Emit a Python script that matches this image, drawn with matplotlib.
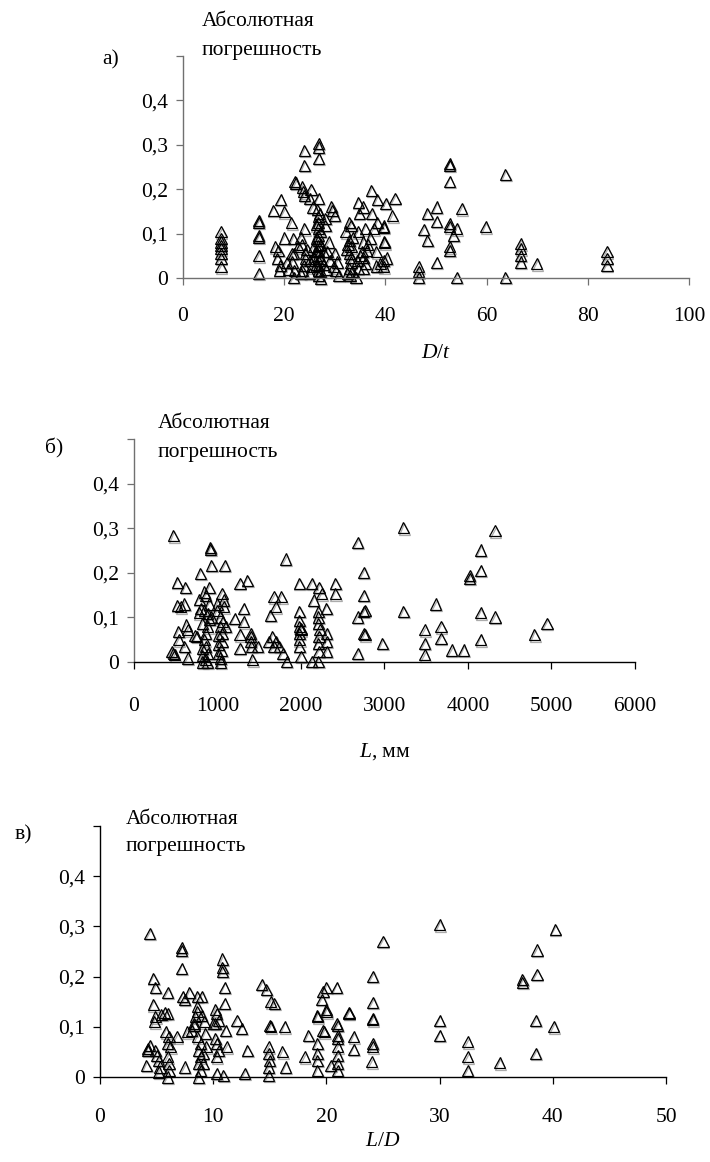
import matplotlib
matplotlib.use('Agg')  # no display
import matplotlib.pyplot as plt
import matplotlib.patheffects as pe
from matplotlib.ticker import FixedLocator, FuncFormatter

plt.rcParams['font.family'] = ['Liberation Serif', 'DejaVu Serif']
plt.rcParams['mathtext.fontset'] = 'custom'
plt.rcParams['mathtext.it'] = 'Liberation Serif:italic'
plt.rcParams['mathtext.rm'] = 'Liberation Serif'

# --- panel a: error vs D/t ---
dt_x = [7.5, 7.5, 7.5, 7.5, 7.5, 7.5, 7.5, 7.5,
        15, 15, 15, 15, 15, 15,
        17.8, 19.3, 20, 21.4, 20, 21.8, 18.2, 18.8, 18.6, 19.2, 19.0, 20.5, 20.8, 21.5,
        22.1, 22.3, 24.0, 24.0, 23.6, 23.8, 24.0, 25.3, 25.0, 25.7, 24.0, 23.3, 24.2, 24.2,
        23.9, 23.6, 23.3, 21.9, 22.0, 21.6, 21.9, 22.8, 23.5, 24.5, 25.0, 25.5, 25.0,
        26.8, 26.8, 26.8, 26.8, 26.7, 26.7, 26.7, 26.7, 26.7, 26.7, 26.7, 26.7, 26.7, 26.7,
        26.7, 26.7, 26.3, 26.3, 26.3, 26.3, 27.2, 27.2, 27.2, 27.2, 27.2, 25.8, 25.8, 27.7,
        27.7, 26.5, 27.0,
        28.1, 29.3, 30.0, 29.5, 28.1, 28.8, 30.0, 30.5, 30.2, 30.8, 28.5, 29.0, 28.3, 29.8,
        32.9, 33.2, 32.2, 32.9, 33.5, 33.2, 32.9, 33.2, 33.2, 32.9, 33.0, 32.5, 33.4, 32.4, 32.6,
        34.6, 35.6, 34.8, 34.6, 36.0, 35.6, 34.6, 34.2, 35.0, 35.4, 34.4,
        37.2, 38.4, 37.3, 38.4, 37.7, 36.3, 35.6, 36.0, 35.6, 38.2, 38.2, 37.0, 36.5,
        40.1, 41.9, 41.4, 39.7, 39.7, 39.8, 39.8, 39.7, 39.7, 39.0, 40.3,
        46.6, 46.6, 46.6, 47.6, 48.3, 48.3, 50.1, 50.1, 50.1,
        52.7, 52.7, 52.7, 52.7, 52.7, 53.4, 52.7, 52.7, 54.1, 54.1, 55.1,
        59.8, 63.7, 63.7,
        66.7, 66.7, 66.7, 66.7, 69.9,
        83.8, 83.8, 83.8]
dt_err = [0.104, 0.089, 0.081, 0.074, 0.066, 0.055, 0.044, 0.025,
          0.13, 0.125, 0.096, 0.092, 0.05, 0.01,
          0.153, 0.177, 0.149, 0.124, 0.09, 0.089, 0.07, 0.062, 0.044, 0.029, 0.017, 0.035, 0.02, 0.055,
          0.218, 0.214, 0.288, 0.254, 0.205, 0.194, 0.186, 0.2, 0.18, 0.16, 0.111, 0.092, 0.055, 0.044,
          0.029, 0.017, 0.01, 0.002, 0.017, 0.036, 0.055, 0.07, 0.075, 0.065, 0.04, 0.025, 0.01,
          0.303, 0.295, 0.27, 0.179, 0.138, 0.126, 0.111, 0.096, 0.085, 0.074, 0.062, 0.051, 0.04, 0.029,
          0.017, 0.006, 0.12, 0.09, 0.06, 0.03, 0.105, 0.075, 0.045, 0.015, 0.0, 0.07, 0.045, 0.06,
          0.03, 0.155, 0.145,
          0.134, 0.162, 0.141, 0.152, 0.119, 0.081, 0.055, 0.036, 0.017, 0.006, 0.06, 0.04, 0.02, 0.025,
          0.126, 0.119, 0.104, 0.085, 0.092, 0.07, 0.055, 0.047, 0.036, 0.021, 0.006, 0.01, 0.015, 0.065, 0.075,
          0.171, 0.16, 0.145, 0.104, 0.111, 0.081, 0.021, 0.002, 0.05, 0.06, 0.04,
          0.198, 0.177, 0.145, 0.126, 0.111, 0.062, 0.047, 0.033, 0.021, 0.059, 0.027, 0.09, 0.075,
          0.168, 0.18, 0.14, 0.117, 0.114, 0.083, 0.079, 0.04, 0.025, 0.032, 0.045,
          0.025, 0.014, 0.002, 0.11, 0.085, 0.145, 0.16, 0.128, 0.035,
          0.258, 0.254, 0.217, 0.123, 0.115, 0.096, 0.07, 0.062, 0.111, 0.002, 0.156,
          0.115, 0.233, 0.002,
          0.077, 0.066, 0.051, 0.036, 0.032,
          0.059, 0.044, 0.029]

# --- panel b: error vs L, mm ---
len_x = [473, 516, 615, 516, 559, 602, 450, 490, 470, 530, 537, 624, 645, 602, 645, 730, 750,
         796, 840, 860, 903, 840, 882, 925, 818, 882, 860, 840, 860, 882, 860,
         780, 780, 800, 900, 900, 820, 820, 820, 880,
         916, 916, 925, 1054, 1075, 1075, 1032, 1032, 1054, 1054, 1045, 1032, 1088,
         1000, 1000, 1010, 1010, 1010, 1040, 1060, 1100,
         1204, 1269, 1355, 1312, 1312, 1269, 1269, 1398, 1398, 1398, 1406, 1419, 1484,
         1634, 1677, 1699, 1763, 1656, 1699, 1677, 1613, 1742, 1785, 1819, 1828,
         1978, 1978, 1978, 1978, 1978, 1978, 1978, 2000, 2000, 2000,
         2129, 2150, 2215, 2249, 2206, 2206, 2206, 2228, 2215, 2206, 2215, 2206,
         2301, 2310, 2310, 2310, 2129, 2409, 2409,
         2680, 2680, 2680, 2753, 2753, 2753, 2766, 2753, 2766, 2976,
         3226, 3226, 3484, 3484, 3484, 3613, 3677, 3677, 3806, 3948,
         4022, 4022, 4150, 4150, 4150, 4150, 4323, 4323, 4796, 4946]
len_err = [0.283, 0.179, 0.168, 0.127, 0.124, 0.13, 0.024, 0.016, 0.02, 0.068, 0.05, 0.083, 0.072, 0.035, 0.009, 0.06, 0.057,
           0.198, 0.157, 0.15, 0.168, 0.116, 0.109, 0.101, 0.087, 0.079, 0.064, 0.05, 0.035, 0.02, 0.005,
           0.14, 0.11, 0.12, 0.13, 0.095, 0.03, 0.015, 0.0, 0.0,
           0.257, 0.253, 0.216, 0.153, 0.124, 0.139, 0.101, 0.079, 0.064, 0.046, 0.027, 0.009, 0.216,
           0.13, 0.115, 0.06, 0.04, 0.02, 0.0, 0.09, 0.08,
           0.098, 0.176, 0.183, 0.12, 0.09, 0.061, 0.031, 0.064, 0.057, 0.046, 0.035, 0.005, 0.035,
           0.105, 0.146, 0.124, 0.146, 0.057, 0.046, 0.035, 0.046, 0.035, 0.02, 0.231, 0.001,
           0.176, 0.113, 0.094, 0.079, 0.064, 0.05, 0.035, 0.013, 0.075, 0.072,
           0.176, 0.139, 0.168, 0.153, 0.113, 0.101, 0.087, 0.072, 0.057, 0.042, 0.024, 0.001,
           0.12, 0.064, 0.046, 0.024, 0.001, 0.176, 0.153,
           0.268, 0.101, 0.02, 0.201, 0.15, 0.113, 0.116, 0.064, 0.061, 0.042,
           0.301, 0.113, 0.072, 0.042, 0.016, 0.13, 0.079, 0.053, 0.027, 0.027,
           0.194, 0.187, 0.251, 0.205, 0.11, 0.05, 0.294, 0.101, 0.061, 0.087]

# --- panel c: error vs L/D ---
ld_x = [4.4, 4.7, 4.9, 6.0, 4.7, 4.8, 4.9, 5.7, 6.0, 5.4,
        7.2, 7.2, 7.2, 7.3, 7.5, 7.9, 8.6, 9.0, 8.6, 8.6, 8.4, 8.3,
        10.2, 10.3, 11.0, 10.8, 10.8, 10.8, 11.0, 10.2, 10.5, 12.1, 12.5,
        14.3, 14.7, 15.1, 15.4, 15.1, 16.3,
        19.2, 19.7, 19.7, 20.0, 20.9, 19.6, 20.0, 20.9, 22.0,
        24.1, 24.1, 24.1, 24.1, 25.0, 30.0, 37.3, 37.3, 38.6, 38.6, 40.2,
        4.1, 4.2, 4.2, 4.4, 4.9, 5.0, 5.2, 5.3, 5.2,
        5.8, 6.1, 6.0, 6.2, 6.0, 6.1, 6.1, 6.0, 6.8, 7.5, 7.7,
        8.3, 8.1, 8.6, 8.9, 8.7, 8.9, 8.7, 8.9, 8.7, 9.0, 9.2, 9.3, 9.4, 9.1, 9.1,
        10.0, 10.2, 10.3, 10.5, 10.3, 10.3, 10.9, 11.2, 11.1, 13.0, 12.8,
        15.0, 14.9, 14.9, 15.0, 14.9, 14.9, 16.1, 16.4,
        18.4, 18.1, 19.2, 19.2, 19.2, 19.2, 19.2, 19.8, 20.0, 20.4,
        21.0, 21.0, 21.0, 21.0, 21.0, 21.0, 21.0, 22.0, 22.4, 22.4,
        24.1, 24.1, 24.0, 30.0, 30.0, 32.5, 32.5, 32.5, 35.3, 38.5, 38.5, 40.1]
ld_err = [0.286, 0.196, 0.178, 0.168, 0.144, 0.11, 0.12, 0.128, 0.127, 0.125,
          0.258, 0.252, 0.216, 0.161, 0.154, 0.168, 0.161, 0.161, 0.14, 0.13, 0.12, 0.107,
          0.134, 0.127, 0.147, 0.235, 0.218, 0.211, 0.178, 0.107, 0.113, 0.113, 0.097,
          0.184, 0.174, 0.15, 0.147, 0.1, 0.1,
          0.12, 0.093, 0.171, 0.178, 0.178, 0.154, 0.134, 0.107, 0.128,
          0.201, 0.149, 0.117, 0.114, 0.27, 0.303, 0.195, 0.188, 0.253, 0.205, 0.294,
          0.023, 0.057, 0.053, 0.063, 0.053, 0.043, 0.033, 0.02, 0.01,
          0.09, 0.08, 0.067, 0.06, 0.04, 0.027, 0.013, 0.0, 0.08, 0.02, 0.09,
          0.103, 0.093, 0.08, 0.067, 0.053, 0.04, 0.027, 0.013, 0.0, 0.123, 0.11, 0.087, 0.06, 0.047, 0.027,
          0.107, 0.077, 0.067, 0.053, 0.04, 0.007, 0.003, 0.06, 0.093, 0.053, 0.007,
          0.103, 0.06, 0.047, 0.033, 0.02, 0.003, 0.05, 0.02,
          0.083, 0.04, 0.067, 0.047, 0.033, 0.013, 0.123, 0.09, 0.13, 0.023,
          0.103, 0.083, 0.077, 0.06, 0.043, 0.027, 0.013, 0.127, 0.08, 0.055,
          0.067, 0.06, 0.03, 0.113, 0.083, 0.07, 0.04, 0.013, 0.028, 0.113, 0.047, 0.1]

y_ticks = [0, 0.1, 0.2, 0.3, 0.4, 0.5]

W, H = 710, 1162
fig = plt.figure(figsize=(W / 100, H / 100), dpi=100)
fig.patch.set_facecolor('white')


def box(left, top, right, bottom):
    # pixel box -> figure fraction rect
    return [left / W, 1 - bottom / H, (right - left) / W, (bottom - top) / H]


def y_fmt(v, pos):
    if abs(v - 0.5) < 1e-9:
        return ''  # top tick has no label
    if v == 0:
        return '0'
    return f'{v:.1f}'.replace('.', ',')


def setup(ax, xmax, xstep, xpad, spine_col, bottom_col):
    ax.set_xlim(0, xmax)
    ax.set_ylim(0, 0.5)
    ax.xaxis.set_major_locator(FixedLocator([i * xstep for i in range(int(round(xmax / xstep)) + 1)]))
    ax.yaxis.set_major_locator(FixedLocator(y_ticks))
    ax.yaxis.set_major_formatter(FuncFormatter(y_fmt))
    ax.xaxis.set_major_formatter(FuncFormatter(lambda v, p: f'{v:g}'))
    for s in ['top', 'right']:
        ax.spines[s].set_visible(False)
    ax.spines['left'].set_color(spine_col)
    ax.spines['bottom'].set_color(bottom_col)
    ax.spines['left'].set_linewidth(1.0)
    ax.spines['bottom'].set_linewidth(1.0)
    ax.tick_params(axis='y', direction='out', length=5, width=0.9, colors=spine_col,
                   labelcolor='black', labelsize=15.5, pad=6)
    ax.tick_params(axis='x', direction='out', length=5, width=0.9, colors=bottom_col,
                   labelcolor='black', labelsize=15.5, pad=xpad)
    ax.patch.set_visible(False)


def tri(ax, xs, ys):
    # open triangles with a faint grey drop shadow, like the Excel markers
    ax.plot(xs, ys, linestyle='none', marker='^', markersize=8,
            markerfacecolor='none', markeredgecolor='black', markeredgewidth=0.9,
            clip_on=False,
            path_effects=[pe.SimpleLineShadow(offset=(0.6, -0.9), shadow_color='#888888', alpha=0.7),
                          pe.Normal()])


# panel a
ax1 = fig.add_axes(box(183, 56, 689, 278))
setup(ax1, 100, 20, 16, '#707070', '#707070')
tri(ax1, dt_x, dt_err)

# panel b
ax2 = fig.add_axes(box(134, 439, 635, 662))
setup(ax2, 6000, 1000, 20, '#707070', 'black')
tri(ax2, len_x, len_err)

# panel c
ax3 = fig.add_axes(box(100, 826, 666, 1077))
setup(ax3, 50, 10, 17, 'black', 'black')
tri(ax3, ld_x, ld_err)

fs = 15.5


def ftext(x, y, s, **kw):
    fig.text(x / W, 1 - y / H, s, fontsize=fs, **kw)


# labels for each panel
ftext(111, 60, 'а)', ha='center', va='center')
ftext(202, 22, 'Абсолютная', ha='left', va='center')
ftext(202, 50, 'погрешность', ha='left', va='center')
ftext(436, 353, r'$D$/$t$', ha='center', va='center')

ftext(54, 448, 'б)', ha='center', va='center')
ftext(158, 423, 'Абсолютная', ha='left', va='center')
ftext(158, 452, 'погрешность', ha='left', va='center')
ftext(385, 752, r'$L$, мм', ha='center', va='center')

ftext(23, 835, 'в)', ha='center', va='center')
ftext(126, 820, 'Абсолютная', ha='left', va='center')
ftext(126, 847, 'погрешность', ha='left', va='center')
ftext(383, 1142, r'$L$/$D$', ha='center', va='center')

fig.savefig('out.png', dpi=100, facecolor='white')
